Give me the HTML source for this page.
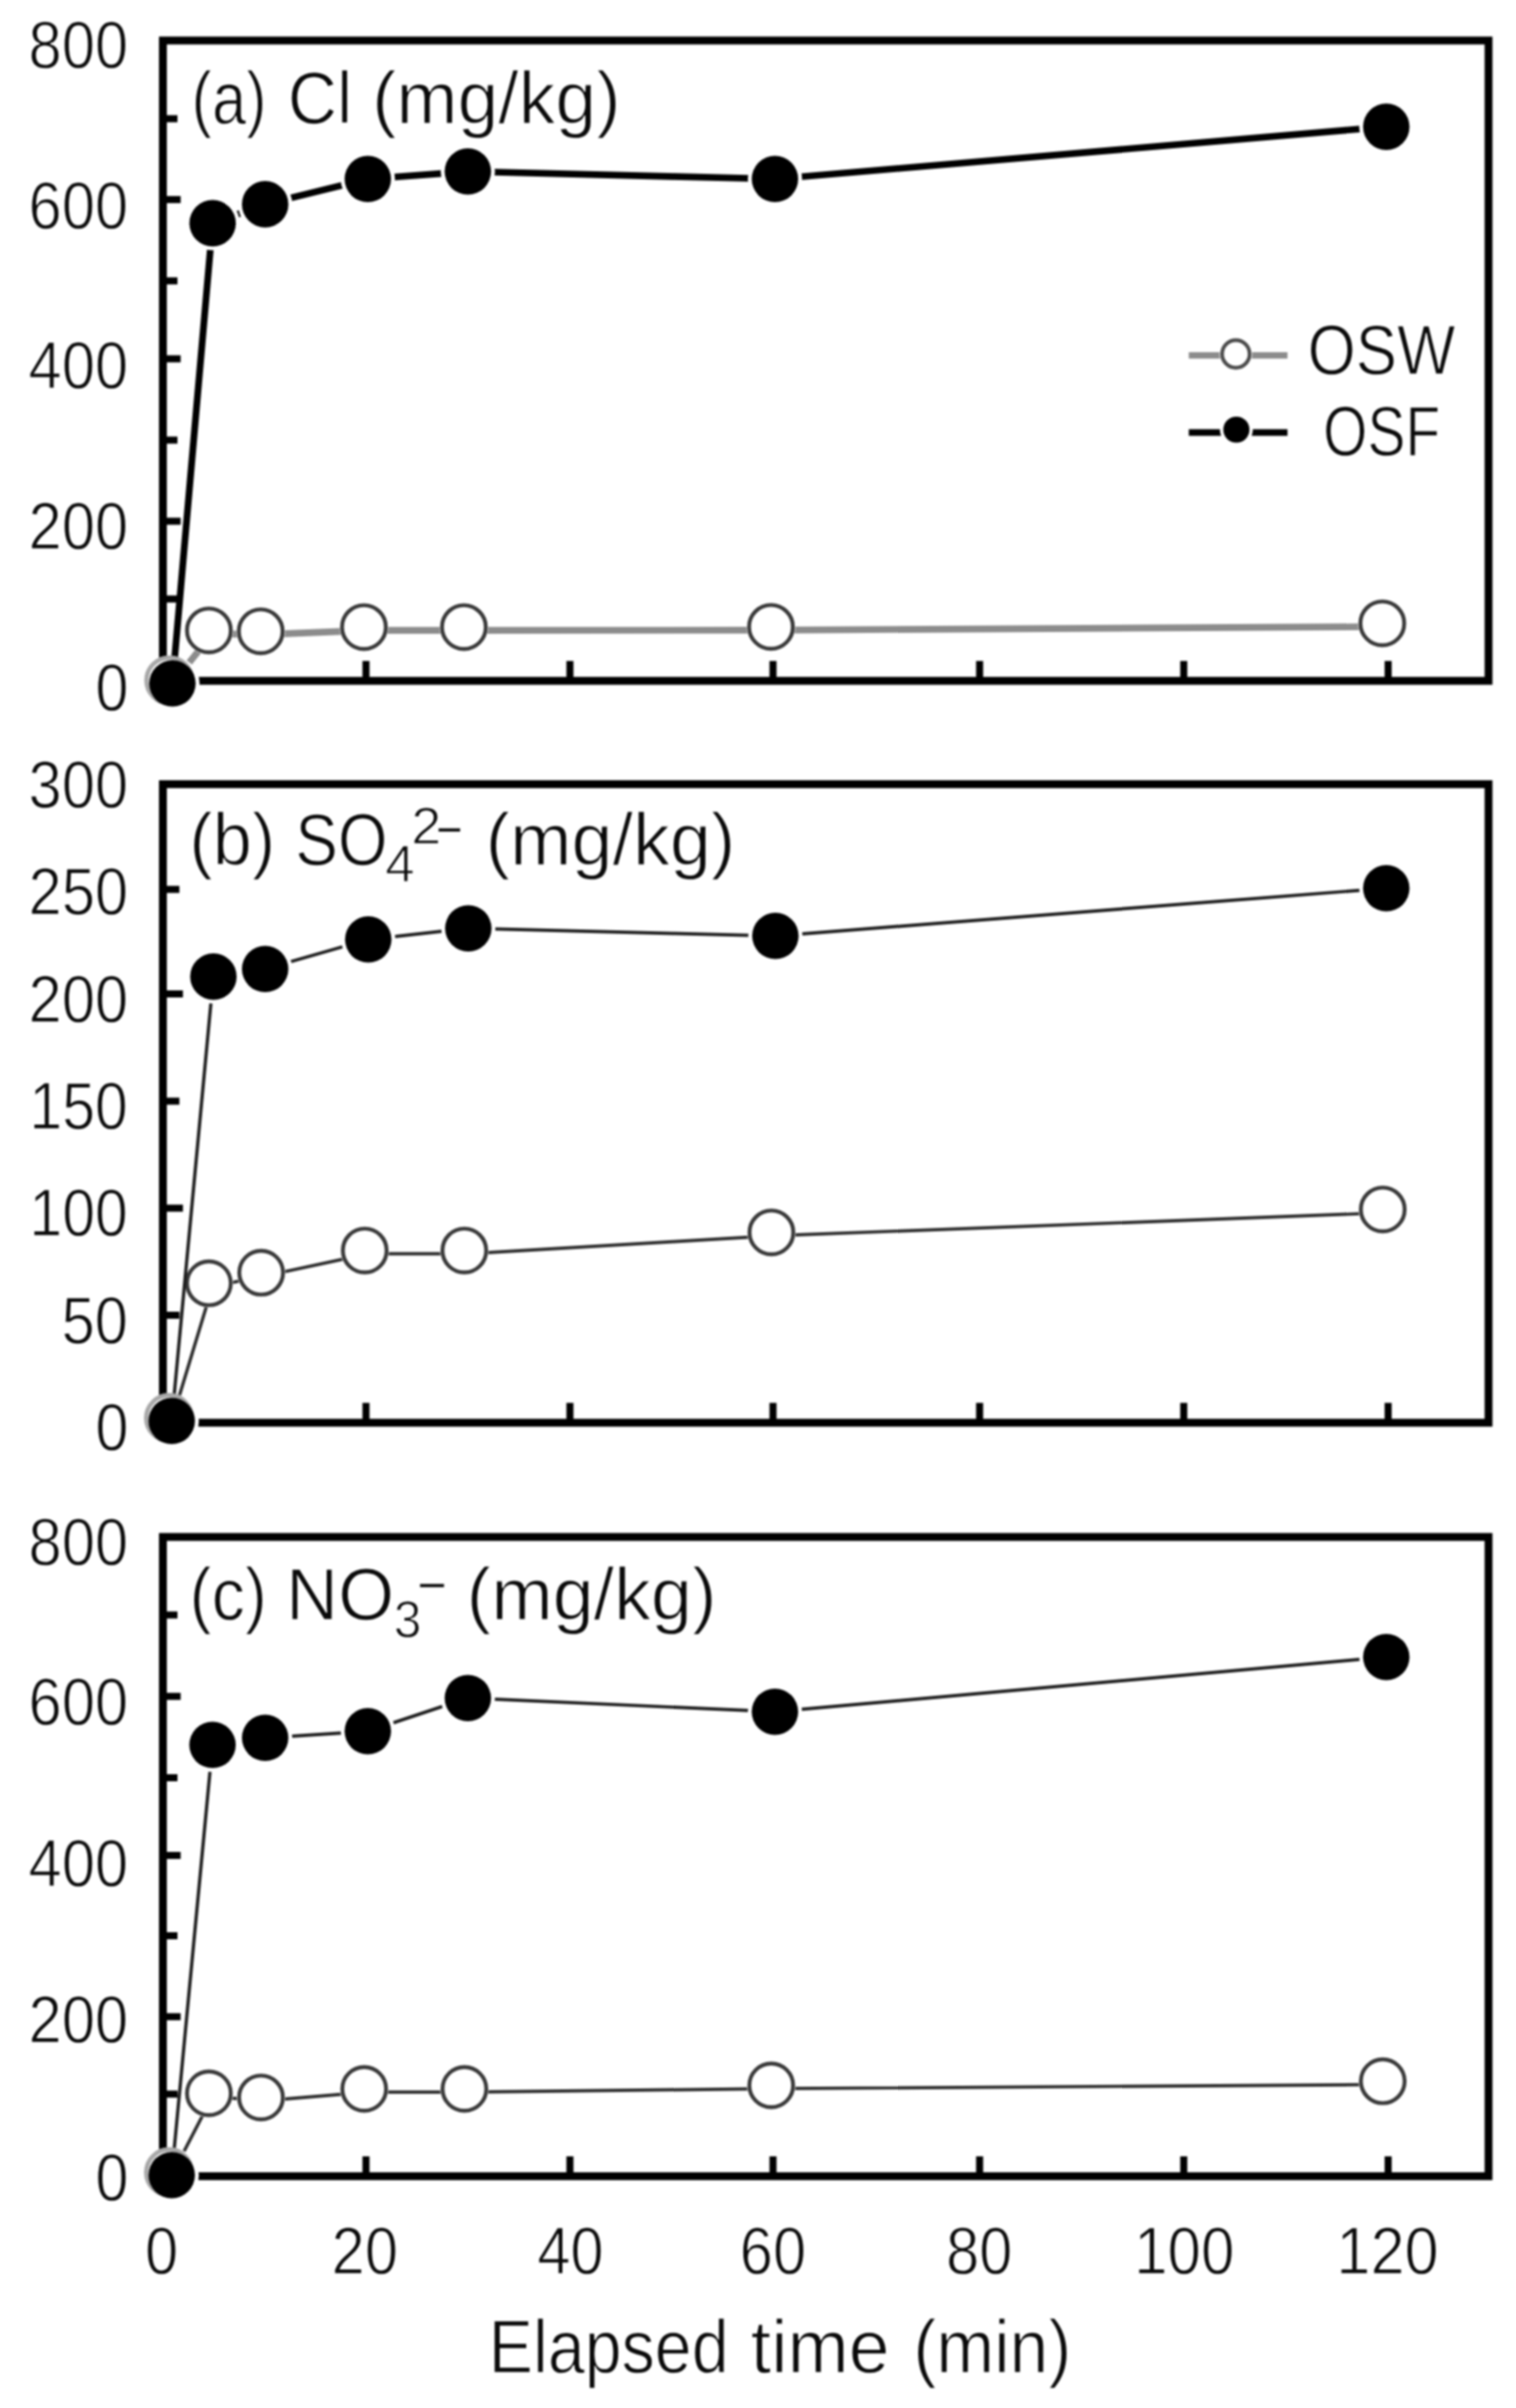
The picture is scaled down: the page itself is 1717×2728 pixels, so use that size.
<!DOCTYPE html>
<html lang="en"><head><meta charset="utf-8"><title>Elapsed time chart</title>
<style>html,body{margin:0;padding:0;background:#fff}svg{display:block;filter:blur(0.9px)}text{font-family:"Liberation Sans", sans-serif;fill:#0a0a0a;stroke:#fff;stroke-width:1.3px}</style></head><body>
<svg width="1717" height="2728" viewBox="0 0 1717 2728">
<rect width="1717" height="2728" fill="#fff"/>
<g>
<line x1="184.5" y1="134.5" x2="201.0" y2="134.5" stroke="#000" stroke-width="8"/>
<line x1="184.5" y1="226.1" x2="204.6" y2="226.1" stroke="#000" stroke-width="8"/>
<line x1="184.5" y1="318.2" x2="201.0" y2="318.2" stroke="#000" stroke-width="8"/>
<line x1="184.5" y1="406.5" x2="204.6" y2="406.5" stroke="#000" stroke-width="8"/>
<line x1="184.5" y1="498.6" x2="201.0" y2="498.6" stroke="#000" stroke-width="8"/>
<line x1="184.5" y1="590.5" x2="204.6" y2="590.5" stroke="#000" stroke-width="8"/>
<line x1="184.5" y1="678.6" x2="201.0" y2="678.6" stroke="#000" stroke-width="8"/>
<line x1="414.5" y1="771.3" x2="414.5" y2="748.8" stroke="#000" stroke-width="8"/>
<line x1="645.5" y1="771.3" x2="645.5" y2="748.8" stroke="#000" stroke-width="8"/>
<line x1="875.5" y1="771.3" x2="875.5" y2="748.8" stroke="#000" stroke-width="8"/>
<line x1="1109.5" y1="771.3" x2="1109.5" y2="748.8" stroke="#000" stroke-width="8"/>
<line x1="1340.7" y1="771.3" x2="1340.7" y2="748.8" stroke="#000" stroke-width="8"/>
<line x1="1572.2" y1="771.3" x2="1572.2" y2="748.8" stroke="#000" stroke-width="8"/>
<rect x="184.5" y="45.9" width="1501.4" height="725.4" fill="none" stroke="#000" stroke-width="8.9"/>
<text x="32.3" y="77.3" font-size="76" textLength="112.9" lengthAdjust="spacingAndGlyphs">800</text>
<text x="32.3" y="258.8" font-size="76" textLength="112.9" lengthAdjust="spacingAndGlyphs">600</text>
<text x="32.3" y="439.8" font-size="76" textLength="112.9" lengthAdjust="spacingAndGlyphs">400</text>
<text x="32.3" y="621.8" font-size="76" textLength="112.9" lengthAdjust="spacingAndGlyphs">200</text>
<text x="108.0" y="804.8" font-size="76" textLength="37.6" lengthAdjust="spacingAndGlyphs">0</text>
<polyline fill="none" stroke="#8c8c8c" stroke-width="7.6" points="195.3,774.3 240.6,717.9 299.3,718.9 416.2,714.1 529.4,714.1 877.2,713.9 1569.6,709.9"/>
<circle cx="236.6" cy="714.2" r="27.6" fill="#fff"/>
<circle cx="236.6" cy="714.2" r="24.8" fill="#fff" stroke="#383838" stroke-width="4.4"/>
<circle cx="295.3" cy="715.2" r="27.6" fill="#fff"/>
<circle cx="295.3" cy="715.2" r="24.8" fill="#fff" stroke="#383838" stroke-width="4.4"/>
<circle cx="412.2" cy="710.4" r="27.6" fill="#fff"/>
<circle cx="412.2" cy="710.4" r="24.8" fill="#fff" stroke="#383838" stroke-width="4.4"/>
<circle cx="525.4" cy="710.4" r="27.6" fill="#fff"/>
<circle cx="525.4" cy="710.4" r="24.8" fill="#fff" stroke="#383838" stroke-width="4.4"/>
<circle cx="873.2" cy="710.2" r="27.6" fill="#fff"/>
<circle cx="873.2" cy="710.2" r="24.8" fill="#fff" stroke="#383838" stroke-width="4.4"/>
<circle cx="1565.6" cy="706.2" r="27.6" fill="#fff"/>
<circle cx="1565.6" cy="706.2" r="24.8" fill="#fff" stroke="#383838" stroke-width="4.4"/>
<polyline fill="none" stroke="#000" stroke-width="7.6" points="195.3,774.3 240.8,252.9 300.3,231.4 416.6,202.8 529.9,194.3 877.7,202.8 1570.1,143.6"/>
<circle cx="195.3" cy="774.3" r="30.7" fill="#fff"/>
<circle cx="191.8" cy="770.8" r="25.9" fill="none" stroke="#a8a8a8" stroke-width="5"/>
<circle cx="195.3" cy="774.3" r="26.3" fill="#000"/>
<circle cx="240.8" cy="252.9" r="30.7" fill="#fff"/>
<circle cx="240.8" cy="252.9" r="26.3" fill="#000"/>
<circle cx="300.3" cy="231.4" r="30.7" fill="#fff"/>
<circle cx="300.3" cy="231.4" r="26.3" fill="#000"/>
<circle cx="416.6" cy="202.8" r="30.7" fill="#fff"/>
<circle cx="416.6" cy="202.8" r="26.3" fill="#000"/>
<circle cx="529.9" cy="194.3" r="30.7" fill="#fff"/>
<circle cx="529.9" cy="194.3" r="26.3" fill="#000"/>
<circle cx="877.7" cy="202.8" r="30.7" fill="#fff"/>
<circle cx="877.7" cy="202.8" r="26.3" fill="#000"/>
<circle cx="1570.1" cy="143.6" r="30.7" fill="#fff"/>
<circle cx="1570.1" cy="143.6" r="26.3" fill="#000"/>
</g>
<g>
<line x1="184.5" y1="1490.0" x2="203.2" y2="1490.0" stroke="#000" stroke-width="8"/>
<line x1="184.5" y1="1368.7" x2="207.2" y2="1368.7" stroke="#000" stroke-width="8"/>
<line x1="184.5" y1="1247.5" x2="203.2" y2="1247.5" stroke="#000" stroke-width="8"/>
<line x1="184.5" y1="1126.0" x2="207.2" y2="1126.0" stroke="#000" stroke-width="8"/>
<line x1="184.5" y1="1007.6" x2="203.2" y2="1007.6" stroke="#000" stroke-width="8"/>
<line x1="414.5" y1="1611.8" x2="414.5" y2="1589.3" stroke="#000" stroke-width="8"/>
<line x1="645.5" y1="1611.8" x2="645.5" y2="1589.3" stroke="#000" stroke-width="8"/>
<line x1="875.5" y1="1611.8" x2="875.5" y2="1589.3" stroke="#000" stroke-width="8"/>
<line x1="1109.5" y1="1611.8" x2="1109.5" y2="1589.3" stroke="#000" stroke-width="8"/>
<line x1="1340.7" y1="1611.8" x2="1340.7" y2="1589.3" stroke="#000" stroke-width="8"/>
<line x1="1572.2" y1="1611.8" x2="1572.2" y2="1589.3" stroke="#000" stroke-width="8"/>
<rect x="184.5" y="888.4" width="1501.4" height="723.4" fill="none" stroke="#000" stroke-width="8.9"/>
<text x="32.3" y="914.8" font-size="76" textLength="112.9" lengthAdjust="spacingAndGlyphs">300</text>
<text x="32.3" y="1036.2" font-size="76" textLength="112.9" lengthAdjust="spacingAndGlyphs">250</text>
<text x="32.3" y="1157.6" font-size="76" textLength="112.9" lengthAdjust="spacingAndGlyphs">200</text>
<text x="33.2" y="1279.0" font-size="76" textLength="111.6" lengthAdjust="spacingAndGlyphs">150</text>
<text x="33.2" y="1400.4" font-size="76" textLength="111.6" lengthAdjust="spacingAndGlyphs">100</text>
<text x="69.7" y="1521.8" font-size="76" textLength="75.2" lengthAdjust="spacingAndGlyphs">50</text>
<text x="108.0" y="1643.2" font-size="76" textLength="37.6" lengthAdjust="spacingAndGlyphs">0</text>
<polyline fill="none" stroke="#2a2a2a" stroke-width="3.7" points="194.5,1609.8 240.6,1457.5 299.8,1445.5 417.1,1420.4 529.9,1420.4 877.7,1399.9 1570.1,1373.9"/>
<circle cx="236.6" cy="1453.8" r="27.6" fill="#fff"/>
<circle cx="236.6" cy="1453.8" r="24.8" fill="#fff" stroke="#383838" stroke-width="4.4"/>
<circle cx="295.8" cy="1441.8" r="27.6" fill="#fff"/>
<circle cx="295.8" cy="1441.8" r="24.8" fill="#fff" stroke="#383838" stroke-width="4.4"/>
<circle cx="413.1" cy="1416.7" r="27.6" fill="#fff"/>
<circle cx="413.1" cy="1416.7" r="24.8" fill="#fff" stroke="#383838" stroke-width="4.4"/>
<circle cx="525.9" cy="1416.7" r="27.6" fill="#fff"/>
<circle cx="525.9" cy="1416.7" r="24.8" fill="#fff" stroke="#383838" stroke-width="4.4"/>
<circle cx="873.7" cy="1396.2" r="27.6" fill="#fff"/>
<circle cx="873.7" cy="1396.2" r="24.8" fill="#fff" stroke="#383838" stroke-width="4.4"/>
<circle cx="1566.1" cy="1370.2" r="27.6" fill="#fff"/>
<circle cx="1566.1" cy="1370.2" r="24.8" fill="#fff" stroke="#383838" stroke-width="4.4"/>
<polyline fill="none" stroke="#1c1c1c" stroke-width="3.7" points="194.5,1609.8 241.7,1106.4 300.3,1097.8 417.1,1064.3 530.4,1051.7 878.2,1060.3 1570.1,1006.3"/>
<circle cx="194.5" cy="1609.8" r="30.7" fill="#fff"/>
<circle cx="191.5" cy="1606.5" r="25.9" fill="none" stroke="#a8a8a8" stroke-width="5"/>
<circle cx="194.5" cy="1609.8" r="26.3" fill="#000"/>
<circle cx="241.7" cy="1106.4" r="30.7" fill="#fff"/>
<circle cx="241.7" cy="1106.4" r="26.3" fill="#000"/>
<circle cx="300.3" cy="1097.8" r="30.7" fill="#fff"/>
<circle cx="300.3" cy="1097.8" r="26.3" fill="#000"/>
<circle cx="417.1" cy="1064.3" r="30.7" fill="#fff"/>
<circle cx="417.1" cy="1064.3" r="26.3" fill="#000"/>
<circle cx="530.4" cy="1051.7" r="30.7" fill="#fff"/>
<circle cx="530.4" cy="1051.7" r="26.3" fill="#000"/>
<circle cx="878.2" cy="1060.3" r="30.7" fill="#fff"/>
<circle cx="878.2" cy="1060.3" r="26.3" fill="#000"/>
<circle cx="1570.1" cy="1006.3" r="30.7" fill="#fff"/>
<circle cx="1570.1" cy="1006.3" r="26.3" fill="#000"/>
</g>
<g>
<line x1="184.5" y1="1829.6" x2="201.0" y2="1829.6" stroke="#000" stroke-width="8"/>
<line x1="184.5" y1="1921.8" x2="204.6" y2="1921.8" stroke="#000" stroke-width="8"/>
<line x1="184.5" y1="2014.0" x2="201.0" y2="2014.0" stroke="#000" stroke-width="8"/>
<line x1="184.5" y1="2102.0" x2="204.6" y2="2102.0" stroke="#000" stroke-width="8"/>
<line x1="184.5" y1="2193.0" x2="201.0" y2="2193.0" stroke="#000" stroke-width="8"/>
<line x1="184.5" y1="2284.7" x2="204.6" y2="2284.7" stroke="#000" stroke-width="8"/>
<line x1="184.5" y1="2372.4" x2="201.0" y2="2372.4" stroke="#000" stroke-width="8"/>
<line x1="414.5" y1="2465.4" x2="414.5" y2="2442.9" stroke="#000" stroke-width="8"/>
<line x1="645.5" y1="2465.4" x2="645.5" y2="2442.9" stroke="#000" stroke-width="8"/>
<line x1="875.5" y1="2465.4" x2="875.5" y2="2442.9" stroke="#000" stroke-width="8"/>
<line x1="1109.5" y1="2465.4" x2="1109.5" y2="2442.9" stroke="#000" stroke-width="8"/>
<line x1="1340.7" y1="2465.4" x2="1340.7" y2="2442.9" stroke="#000" stroke-width="8"/>
<line x1="1572.2" y1="2465.4" x2="1572.2" y2="2442.9" stroke="#000" stroke-width="8"/>
<rect x="184.5" y="1741.2" width="1501.4" height="724.2" fill="none" stroke="#000" stroke-width="8.9"/>
<text x="32.3" y="1773.2" font-size="76" textLength="112.9" lengthAdjust="spacingAndGlyphs">800</text>
<text x="32.3" y="1954.3" font-size="76" textLength="112.9" lengthAdjust="spacingAndGlyphs">600</text>
<text x="32.3" y="2136.6" font-size="76" textLength="112.9" lengthAdjust="spacingAndGlyphs">400</text>
<text x="32.3" y="2313.9" font-size="76" textLength="112.9" lengthAdjust="spacingAndGlyphs">200</text>
<text x="108.0" y="2492.9" font-size="76" textLength="37.6" lengthAdjust="spacingAndGlyphs">0</text>
<polyline fill="none" stroke="#2a2a2a" stroke-width="3.7" points="194.5,2464.2 240.6,2375.2 299.6,2379.9 416.5,2370.2 530.0,2370.2 877.5,2366.2 1570.1,2361.5"/>
<circle cx="236.6" cy="2371.5" r="27.6" fill="#fff"/>
<circle cx="236.6" cy="2371.5" r="24.8" fill="#fff" stroke="#383838" stroke-width="4.4"/>
<circle cx="295.6" cy="2376.2" r="27.6" fill="#fff"/>
<circle cx="295.6" cy="2376.2" r="24.8" fill="#fff" stroke="#383838" stroke-width="4.4"/>
<circle cx="412.5" cy="2366.5" r="27.6" fill="#fff"/>
<circle cx="412.5" cy="2366.5" r="24.8" fill="#fff" stroke="#383838" stroke-width="4.4"/>
<circle cx="526.0" cy="2366.5" r="27.6" fill="#fff"/>
<circle cx="526.0" cy="2366.5" r="24.8" fill="#fff" stroke="#383838" stroke-width="4.4"/>
<circle cx="873.5" cy="2362.5" r="27.6" fill="#fff"/>
<circle cx="873.5" cy="2362.5" r="24.8" fill="#fff" stroke="#383838" stroke-width="4.4"/>
<circle cx="1566.1" cy="2357.8" r="27.6" fill="#fff"/>
<circle cx="1566.1" cy="2357.8" r="24.8" fill="#fff" stroke="#383838" stroke-width="4.4"/>
<polyline fill="none" stroke="#1c1c1c" stroke-width="3.7" points="194.5,2464.2 240.7,1976.8 300.3,1968.8 416.6,1961.3 529.9,1923.7 877.7,1939.2 1570.1,1877.2"/>
<circle cx="194.5" cy="2464.2" r="30.7" fill="#fff"/>
<circle cx="191.5" cy="2461.0" r="25.9" fill="none" stroke="#a8a8a8" stroke-width="5"/>
<circle cx="194.5" cy="2464.2" r="26.3" fill="#000"/>
<circle cx="240.7" cy="1976.8" r="30.7" fill="#fff"/>
<circle cx="240.7" cy="1976.8" r="26.3" fill="#000"/>
<circle cx="300.3" cy="1968.8" r="30.7" fill="#fff"/>
<circle cx="300.3" cy="1968.8" r="26.3" fill="#000"/>
<circle cx="416.6" cy="1961.3" r="30.7" fill="#fff"/>
<circle cx="416.6" cy="1961.3" r="26.3" fill="#000"/>
<circle cx="529.9" cy="1923.7" r="30.7" fill="#fff"/>
<circle cx="529.9" cy="1923.7" r="26.3" fill="#000"/>
<circle cx="877.7" cy="1939.2" r="30.7" fill="#fff"/>
<circle cx="877.7" cy="1939.2" r="26.3" fill="#000"/>
<circle cx="1570.1" cy="1877.2" r="30.7" fill="#fff"/>
<circle cx="1570.1" cy="1877.2" r="26.3" fill="#000"/>
</g>
<text font-size="84"><tspan x="217.1" y="139.8" font-size="84" textLength="84.6" lengthAdjust="spacingAndGlyphs">(a)</tspan> <tspan x="326.0" y="139.8" font-size="84" textLength="72.8" lengthAdjust="spacingAndGlyphs">Cl</tspan> <tspan x="421.4" y="139.8" font-size="84" textLength="281.4" lengthAdjust="spacingAndGlyphs">(mg/kg)</tspan></text>
<text font-size="84"><tspan x="214.5" y="980.3" font-size="84" textLength="97.2" lengthAdjust="spacingAndGlyphs">(b)</tspan> <tspan x="334.5" y="980.3" font-size="84" textLength="104.3" lengthAdjust="spacingAndGlyphs">SO</tspan><tspan x="436.2" y="998.6" font-size="60" textLength="33.5" lengthAdjust="spacingAndGlyphs" stroke-width="1.3">4</tspan><tspan x="465.7" y="956.2" font-size="60" textLength="34.1" lengthAdjust="spacingAndGlyphs" stroke-width="1.3">2</tspan><tspan x="494.1" y="959.1" font-size="56" textLength="29.7" lengthAdjust="spacingAndGlyphs" stroke-width="0.4">−</tspan> <tspan x="550.0" y="980.3" font-size="84" textLength="282.9" lengthAdjust="spacingAndGlyphs">(mg/kg)</tspan></text>
<text font-size="84"><tspan x="214.8" y="1835.3" font-size="84" textLength="87.5" lengthAdjust="spacingAndGlyphs">(c)</tspan> <tspan x="324.0" y="1835.3" font-size="84" textLength="122.3" lengthAdjust="spacingAndGlyphs">NO</tspan><tspan x="446.1" y="1855.0" font-size="60" textLength="31.3" lengthAdjust="spacingAndGlyphs" stroke-width="1.3">3</tspan><tspan x="472.8" y="1815.1" font-size="56" textLength="33.1" lengthAdjust="spacingAndGlyphs" stroke-width="0.4">−</tspan> <tspan x="528.6" y="1835.3" font-size="84" textLength="282.9" lengthAdjust="spacingAndGlyphs">(mg/kg)</tspan></text>
<line x1="1346.4" y1="402.6" x2="1458.2" y2="402.6" stroke="#8c8c8c" stroke-width="7.4"/>
<circle cx="1399.7" cy="401" r="18.6" fill="#fff"/><circle cx="1399.7" cy="401" r="15.6" fill="#fff" stroke="#4a4a4a" stroke-width="4.2"/>
<line x1="1346.4" y1="490" x2="1458.2" y2="490" stroke="#000" stroke-width="7.6"/>
<circle cx="1400.3" cy="486.8" r="18.6" fill="#fff"/><circle cx="1400.3" cy="486.8" r="14.8" fill="#000"/>
<text x="1481.1" y="424.3" font-size="80" textLength="167.3" lengthAdjust="spacingAndGlyphs">OSW</text>
<text x="1498.5" y="515.6" font-size="80" textLength="132.8" lengthAdjust="spacingAndGlyphs">OSF</text>
<text x="164.3" y="2576.0" font-size="76" textLength="37.6" lengthAdjust="spacingAndGlyphs">0</text>
<text x="375.6" y="2576.0" font-size="76" textLength="75.2" lengthAdjust="spacingAndGlyphs">20</text>
<text x="608.4" y="2576.0" font-size="76" textLength="75.2" lengthAdjust="spacingAndGlyphs">40</text>
<text x="837.8" y="2576.0" font-size="76" textLength="75.2" lengthAdjust="spacingAndGlyphs">60</text>
<text x="1071.4" y="2576.0" font-size="76" textLength="75.2" lengthAdjust="spacingAndGlyphs">80</text>
<text x="1284.5" y="2576.0" font-size="76" textLength="113.6" lengthAdjust="spacingAndGlyphs">100</text>
<text x="1513.5" y="2576.0" font-size="76" textLength="115.9" lengthAdjust="spacingAndGlyphs">120</text>
<text font-size="85"><tspan x="553.6" y="2688.2" font-size="85" textLength="271.6" lengthAdjust="spacingAndGlyphs">Elapsed</tspan> <tspan x="850.3" y="2688.2" font-size="85" textLength="157.2" lengthAdjust="spacingAndGlyphs">time</tspan> <tspan x="1034.4" y="2688.2" font-size="85" textLength="179.0" lengthAdjust="spacingAndGlyphs">(min)</tspan></text>
</svg></body></html>
